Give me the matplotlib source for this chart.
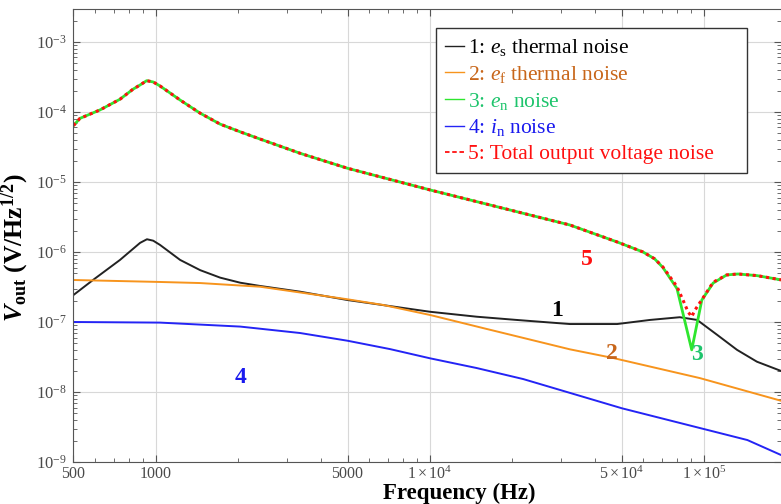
import matplotlib
matplotlib.use('Agg')
import matplotlib.pyplot as plt
from matplotlib.lines import Line2D
from matplotlib.ticker import FixedLocator, FixedFormatter

plt.rcParams['font.family'] = 'Liberation Serif'
plt.rcParams['mathtext.fontset'] = 'custom'
plt.rcParams['mathtext.rm'] = 'Liberation Serif'
plt.rcParams['mathtext.it'] = 'Liberation Serif:italic'
plt.rcParams['mathtext.bf'] = 'Liberation Serif:bold'
plt.rcParams['mathtext.bfit'] = 'Liberation Serif:bold:italic'

# curve 5: total output voltage noise (Hz, V/Hz^1/2)
freq_total = [500, 528, 625, 739, 824, 875, 925, 977, 1035, 1225, 1450, 1715, 2030, 2400,
              3356, 5000, 1e4, 1.48e4, 2.07e4, 3.24e4, 4.82e4, 5.99e4, 6.6e4, 7.08e4, 7.97e4,
              8.38e4, 8.75e4, 9.02e4, 9.27e4, 9.91e4, 1.08e5, 1.21e5, 1.33e5, 1.56e5, 1.91e5]
v_total = [6.4e-5, 8.1e-5, 1.07e-4, 1.52e-4, 2.11e-4, 2.43e-4, 2.80e-4, 2.68e-4, 2.35e-4, 1.48e-4,
           9.6e-5, 6.7e-5, 5.2e-5, 4.1e-5, 2.57e-5, 1.57e-5, 7.7e-6, 5.24e-6, 3.77e-6, 2.43e-6,
           1.39e-6, 1.0e-6, 8.0e-7, 6.1e-7, 3.2e-7, 2.06e-7, 1.39e-7, 1.19e-7, 1.48e-7, 2.2e-7,
           3.7e-7, 4.7e-7, 4.85e-7, 4.6e-7, 4.0e-7]

# curve 3: e_n noise
freq_en = [500, 528, 625, 739, 824, 875, 925, 977, 1035, 1225, 1450, 1715, 2030, 2400,
           3356, 5000, 1e4, 1.48e4, 2.07e4, 3.24e4, 4.82e4, 5.99e4, 6.6e4, 7.08e4, 7.97e4,
           9.02e4, 9.82e4, 1.08e5, 1.21e5, 1.33e5, 1.56e5, 1.91e5]
v_en = [6.4e-5, 8.1e-5, 1.07e-4, 1.52e-4, 2.11e-4, 2.43e-4, 2.80e-4, 2.68e-4, 2.35e-4, 1.48e-4,
        9.6e-5, 6.7e-5, 5.2e-5, 4.1e-5, 2.57e-5, 1.57e-5, 7.7e-6, 5.24e-6, 3.77e-6, 2.43e-6,
        1.39e-6, 1.0e-6, 8.0e-7, 6.0e-7, 3.0e-7, 4.0e-8, 2.06e-7, 3.6e-7, 4.7e-7, 4.85e-7,
        4.6e-7, 4.0e-7]

# curve 1: e_s thermal noise
freq_es = [500, 589, 739, 875, 927, 977, 1035, 1225, 1450, 1715, 2030, 2400, 3356, 5000, 1e4,
           1.48e4, 2.07e4, 3.24e4, 4.82e4, 6.35e4, 8.16e4, 9.44e4, 1.12e5, 1.32e5, 1.56e5, 1.91e5]
v_es = [2.43e-7, 3.98e-7, 7.7e-7, 1.35e-6, 1.52e-6, 1.45e-6, 1.26e-6, 7.7e-7, 5.5e-7, 4.3e-7,
        3.64e-7, 3.27e-7, 2.71e-7, 2.06e-7, 1.40e-7, 1.19e-7, 1.07e-7, 9.35e-8, 9.35e-8, 1.07e-7,
        1.17e-7, 1.07e-7, 6.5e-8, 4.0e-8, 2.71e-8, 2.0e-8]

# curve 2: e_f thermal noise
freq_ef = [500, 1035, 1450, 2400, 5000, 6750, 1e4, 1.56e4, 3.24e4, 4.66e4, 9.66e4, 1.91e5]
v_ef = [3.98e-7, 3.73e-7, 3.6e-7, 3.19e-7, 2.11e-7, 1.75e-7, 1.26e-7, 8.2e-8, 4.07e-8,
        3.06e-8, 1.58e-8, 7.5e-9]

# curve 4: i_n noise
freq_in = [500, 1035, 2030, 3356, 5000, 7150, 1e4, 1.48e4, 2.19e4, 5.02e4, 1.44e5, 1.91e5]
v_in = [1.0e-7, 9.8e-8, 8.6e-8, 6.96e-8, 5.4e-8, 4.1e-8, 3.03e-8, 2.2e-8, 1.53e-8, 5.85e-9,
        2.06e-9, 1.26e-9]

x_ticks = [500, 1000, 5000, 1e4, 5e4, 1e5]
x_labels = ['500', '1000', '5000', r'$1\times10^{4}$', r'$5\times10^{4}$', r'$1\times10^{5}$']
y_ticks = [1e-9, 1e-8, 1e-7, 1e-6, 1e-5, 1e-4, 1e-3]
y_labels = [r'$10^{-9}$', r'$10^{-8}$', r'$10^{-7}$', r'$10^{-6}$', r'$10^{-5}$', r'$10^{-4}$', r'$10^{-3}$']

legend_labels = [r'1: $e_\mathrm{s}$ thermal noise', r'2: $e_\mathrm{f}$ thermal noise',
                 r'3: $e_\mathrm{n}$ noise', r'4: $i_\mathrm{n}$ noise',
                 '5: Total output voltage noise']

c_black, c_orange, c_green, c_blue, c_red = '#222222', '#f7941d', '#2ee62e', '#2424f5', '#ff1010'
t_orange, t_green, t_blue = '#c8661a', '#1ec46c', '#1a1aee'

fig = plt.figure(figsize=(7.81, 5.04), dpi=100)
ax = fig.add_axes([0.0941, 0.0833, 0.9059, 0.8979])

ax.plot(freq_es, v_es, color=c_black, lw=1.4)
ax.plot(freq_ef, v_ef, color=c_orange, lw=1.4)
ax.plot(freq_in, v_in, color=c_blue, lw=1.4)
ax.plot(freq_en, v_en, color=c_green, lw=2.0)
ax.plot(freq_total, v_total, color=c_red, lw=2.2, ls=(0, (1, 1.2)))

ax.set_xscale('log')
ax.set_yscale('log')
ax.set_xlim(500, 1.91e5)
ax.set_ylim(1e-9, 2.91e-3)

ax.xaxis.set_major_locator(FixedLocator(x_ticks))
ax.xaxis.set_major_formatter(FixedFormatter(x_labels))
x_minor = [m * d for d in [100, 1000, 1e4, 1e5] for m in range(2, 10)
           if m * d not in x_ticks and 500 < m * d < 1.91e5]
ax.xaxis.set_minor_locator(FixedLocator(x_minor))
ax.yaxis.set_major_locator(FixedLocator(y_ticks))
ax.yaxis.set_major_formatter(FixedFormatter(y_labels))
y_minor = [m * 10.0 ** e for e in range(-9, -2) for m in range(2, 10)]
ax.yaxis.set_minor_locator(FixedLocator(y_minor))

ax.tick_params(which='both', direction='in', top=True, right=True,
               labelsize=12, labelcolor='#4a4a4a', color='#555555')
ax.tick_params(which='major', length=5, width=0.8)
ax.tick_params(which='minor', length=3, width=0.6)
ax.tick_params(axis='x', pad=3, labelsize=11.5)
ax.tick_params(axis='y', pad=5)
ax.grid(True, which='major', color='#d8d8d8', lw=0.8)
for s in ['left', 'bottom', 'top']:
    ax.spines[s].set_color('#555555')
ax.spines['right'].set_visible(False)

ax.set_xlabel('Frequency (Hz)', fontsize=16.5, fontweight='bold')
ax.xaxis.set_label_coords(0.5456, -0.047)
ax.set_ylabel(r'$\mathbfit{V}_{\mathbf{out}}$ (V/Hz$^{\mathbf{1/2}}$)', fontsize=18.5,
              fontweight='bold')
ax.yaxis.set_label_coords(-0.06, 0.473)

# curve numbers
ax.text(3.74e4, 7.7e-7, '5', color=c_red, fontsize=17, fontweight='bold', ha='center', va='center')
ax.text(2.91e4, 1.44e-7, '1', color='black', fontsize=17, fontweight='bold', ha='center', va='center')
ax.text(4.61e4, 3.5e-8, '2', color=t_orange, fontsize=17, fontweight='bold', ha='center', va='center')
ax.text(9.45e4, 3.4e-8, '3', color=t_green, fontsize=17, fontweight='bold', ha='center', va='center')
ax.text(2030, 1.6e-8, '4', color=t_blue, fontsize=17, fontweight='bold', ha='center', va='center')

handles = [Line2D([], [], color=c_black, lw=1),
           Line2D([], [], color=c_orange, lw=1),
           Line2D([], [], color=c_green, lw=1),
           Line2D([], [], color=c_blue, lw=1),
           Line2D([], [], color=c_red, lw=1.3, ls=(0, (2.5, 1.5)))]
leg = ax.legend(handles, legend_labels, loc='upper left',
                bbox_to_anchor=(436 / 781, 476 / 504, 311 / 781, 0.0),
                bbox_transform=fig.transFigure, mode='expand', borderaxespad=0,
                fontsize=15.5, handlelength=0.9, handletextpad=0.15, labelspacing=0.27,
                borderpad=0.42, fancybox=False, framealpha=1,
                labelcolor=['black', t_orange, t_green, t_blue, c_red])
leg.get_frame().set_edgecolor('#333333')
leg.get_frame().set_linewidth(1.0)

fig.savefig('out.png', dpi=100)
